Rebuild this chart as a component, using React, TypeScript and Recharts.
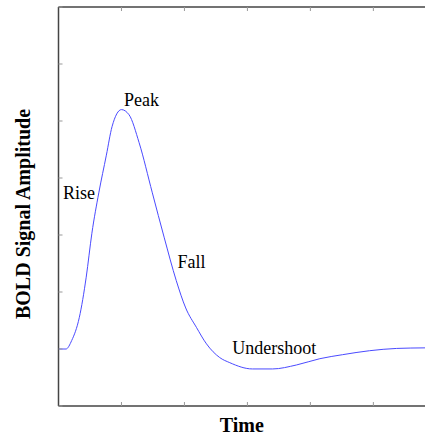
import { Line, LineChart, ReferenceDot, XAxis, YAxis, Label } from 'recharts'

// hemodynamic response: time (arbitrary units) vs BOLD amplitude
const time = [0, 0.12, 0.21, 0.33, 0.44, 0.53, 0.64, 0.76, 0.85, 1.0, 1.12, 1.28, 1.49, 1.68, 1.87, 2.02, 2.19, 2.35, 2.56, 2.72, 3.08, 3.4, 3.78, 4.15, 4.51, 4.94, 5.37, 5.82]
const signal = [1.0, 1.0, 1.15, 1.55, 2.26, 3.03, 3.74, 4.4, 4.9, 5.2, 5.11, 4.62, 3.74, 2.95, 2.2, 1.72, 1.38, 1.09, 0.85, 0.76, 0.65, 0.65, 0.72, 0.83, 0.9, 0.97, 1.01, 1.02]

const xTicks = [0, 1, 2, 3, 4, 5]
const yTicks = [0, 1, 2, 3, 4, 5, 6, 7]

// phase annotations, anchored at the left end of the text baseline
const phaseNames = ['Rise', 'Peak', 'Fall', 'Undershoot']
const phaseX = [0.07, 1.04, 1.89, 2.76]
const phaseY = [3.63, 5.26, 2.42, 0.92]

const data = time.map((t, i) => ({ t, v: signal[i] }))

const SERIF = '"Liberation Serif", "DejaVu Serif", serif'
const AXIS = '#444'
const TICK = '#999'

// tick marks only, no tick labels
const NoTickLabel = () => <g />

function PhaseText({ viewBox, value }: any) {
  return (
    <text x={viewBox.x} y={viewBox.y} fontFamily={SERIF} fontSize={18} fill="#000" textAnchor="start">
      {value}
    </text>
  )
}

function YTitle({ viewBox }: any) {
  const x = viewBox.x - 29
  const y = 214
  return (
    <text x={x} y={y} transform={`rotate(-90 ${x} ${y})`} textAnchor="middle" fontFamily={SERIF} fontSize={20} fontWeight="bold" fill="#000">
      BOLD Signal Amplitude
    </text>
  )
}

function XTitle({ viewBox }: any) {
  return (
    <text x={viewBox.x + viewBox.width / 2} y={viewBox.y + 27} textAnchor="middle" fontFamily={SERIF} fontSize={20} fontWeight="bold" fill="#000">
      Time
    </text>
  )
}

export default function App() {
  return (
    <div style={{ position: 'absolute', left: 0, top: 0, width: 425, height: 435, background: '#fff' }}>
      <LineChart width={425} height={435} data={data} margin={{ top: 7, right: 0, bottom: 29, left: 58.5 }}>
        <XAxis
          dataKey="t"
          type="number"
          domain={[0, 5.82]}
          allowDataOverflow
          ticks={xTicks}
          height={1}
          mirror
          tick={NoTickLabel}
          tickSize={4}
          tickLine={{ stroke: TICK }}
          axisLine={{ stroke: AXIS, strokeWidth: 1.5 }}
        >
          <Label content={XTitle} />
        </XAxis>
        <XAxis
          xAxisId="top"
          orientation="top"
          dataKey="t"
          type="number"
          domain={[0, 5.82]}
          allowDataOverflow
          ticks={xTicks}
          height={1}
          mirror
          tick={NoTickLabel}
          tickSize={4}
          tickLine={{ stroke: TICK }}
          axisLine={{ stroke: AXIS, strokeWidth: 1.5 }}
        />
        <YAxis
          type="number"
          domain={[0, 7]}
          allowDataOverflow
          ticks={yTicks}
          width={1}
          mirror
          tick={NoTickLabel}
          tickSize={4}
          tickLine={{ stroke: TICK }}
          axisLine={{ stroke: AXIS, strokeWidth: 1.5 }}
        >
          <Label content={YTitle} />
        </YAxis>
        <Line type="monotone" dataKey="v" stroke="#4a4aff" strokeWidth={1} dot={false} isAnimationActive={false} />
        {phaseNames.map((name, i) => (
          <ReferenceDot
            key={name}
            x={phaseX[i]}
            y={phaseY[i]}
            r={0}
            fill="none"
            stroke="none"
            label={<Label value={name} content={PhaseText} />}
          />
        ))}
      </LineChart>
    </div>
  )
}
